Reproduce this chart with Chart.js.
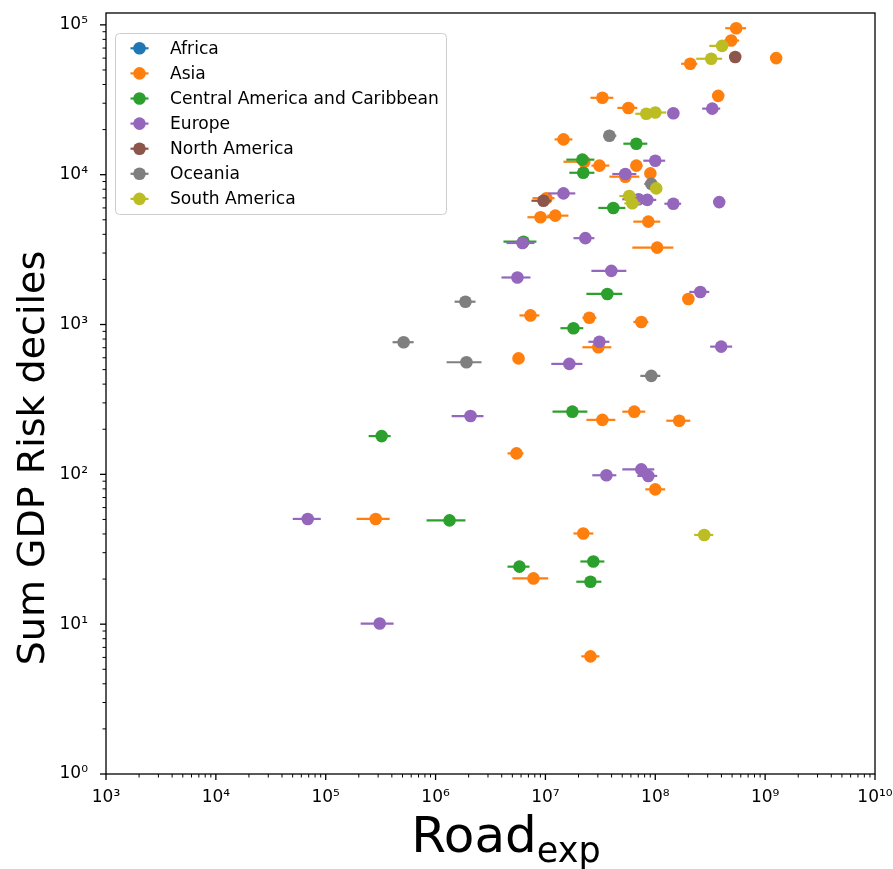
<!DOCTYPE html>
<html><head><meta charset="utf-8">
<script src="https://cdn.jsdelivr.net/npm/chart.js@4/dist/chart.umd.min.js"></script>
<style>html,body{margin:0;padding:0;background:#fff}#wrap{width:893px;height:869px}</style>
</head><body><div id="wrap"><canvas id="c" width="893" height="869"></canvas></div>
<script>
// ---------------- data ----------------
const regionNames = ["Africa","Asia","Central America and Caribbean","Europe","North America","Oceania","South America"];
const regionColors = ["#1f77b4","#ff7f0e","#2ca02c","#9467bd","#8c564b","#7f7f7f","#bcbd22"];

const africaX = [], africaY = [], africaLo = [], africaHi = [];

const asiaX  = [5.45e8,4.91e8,1.26e9,2.08e8,3.30e7,3.74e8,5.69e7,1.46e7,2.26e7,3.10e7,6.72e7,5.34e7,9.02e7,1.02e7,9.02e6,1.23e7,8.64e7,1.04e8,2.0e8,7.31e6,2.51e7,7.46e7,3.03e7,5.69e6,6.44e7,3.30e7,1.65e8,5.45e6,1.0e8,2.85e5,2.21e7,7.78e6,2.57e7];
const asiaY  = [9.5e4,7.86e4,6.0e4,5.5e4,3.26e4,3.36e4,2.79e4,1.72e4,1.22e4,1.15e4,1.15e4,9.7e3,1.02e4,6.97e3,5.2e3,5.33e3,4.86e3,3.26e3,1.48e3,1.15e3,1.11e3,1.04e3,705,594,262,231,228,138,79.4,50.4,40.3,20.2,6.1];
const asiaLo = [4.33e8,4.24e8,1.18e9,1.72e8,2.57e7,3.44e8,4.52e7,1.21e7,1.46e7,2.62e7,6.05e7,3.82e7,8.11e7,7.62e6,6.86e6,1.04e7,6.31e7,6.18e7,1.84e8,5.80e6,2.17e7,6.31e7,2.17e7,5.22e6,5.01e7,2.36e7,1.26e8,4.52e6,8.11e7,1.91e5,1.80e7,5.01e6,2.12e7];
const asiaHi = [6.71e8,5.80e8,1.34e9,2.41e8,4.15e7,4.06e8,6.86e7,1.76e7,2.51e7,3.82e7,7.62e7,7.16e7,1.0e8,1.21e7,1.16e7,1.62e7,1.11e8,1.46e8,2.17e8,8.81e6,2.91e7,8.64e7,3.98e7,6.18e6,8.11e7,4.33e7,2.08e8,6.31e6,1.23e8,3.82e5,2.73e7,1.06e7,3.10e7];

const camX  = [6.72e7,2.17e7,2.21e7,4.15e7,6.31e6,3.66e7,1.80e7,1.76e7,3.23e5,1.34e6,2.73e7,5.80e6,2.57e7];
const camY  = [1.61e4,1.26e4,1.03e4,6.0e3,3.57e3,1.6e3,945,262,180,49.3,26.2,24.2,19.2];
const camLo = [5.12e7,1.55e7,1.65e7,3.03e7,4.15e6,2.36e7,1.37e7,1.16e7,2.46e5,8.28e5,2.08e7,4.52e6,1.91e7];
const camHi = [8.46e7,2.79e7,2.79e7,5.34e7,8.28e6,5.01e7,2.21e7,2.41e7,3.90e5,1.87e6,3.44e7,7.16e6,3.23e7];

const europeX  = [3.30e8,1.46e8,1.0e8,5.34e7,1.46e7,8.46e7,7.05e7,1.46e8,3.82e8,2.31e7,6.18e6,3.98e7,5.56e6,2.57e8,3.98e8,3.10e7,1.65e7,2.08e6,3.59e7,7.46e7,8.64e7,6.86e4,3.10e5];
const europeY  = [2.76e4,2.57e4,1.24e4,1.01e4,7.5e3,6.79e3,6.86e3,6.4e3,6.56e3,3.77e3,3.5e3,2.28e3,2.06e3,1.65e3,712,767,546,245,98.6,108,97.6,50.4,10.1];
const europeLo = [2.67e8,1.34e8,7.78e7,4.06e7,1.06e7,6.86e7,5.01e7,1.21e8,3.44e8,1.80e7,4.42e6,2.62e7,3.98e6,2.04e8,3.16e8,2.46e7,1.13e7,1.40e6,2.67e7,5.01e7,6.86e7,5.01e4,2.08e5];
const europeHi = [3.90e8,1.60e8,1.23e8,6.72e7,1.87e7,1.02e8,8.64e7,1.72e8,4.24e8,2.79e7,7.94e6,5.45e7,7.31e6,3.10e8,5.01e8,3.82e7,2.17e7,2.73e6,4.42e7,9.79e7,1.04e8,9.02e4,4.15e5];

const northAmX  = [5.34e8,9.59e6];
const northAmY  = [6.1e4,6.7e3];
const northAmLo = [5.0e8,7.46e6];
const northAmHi = [5.7e8,1.13e7];

const oceaniaX  = [3.82e7,9.20e7,1.87e6,5.12e5,1.91e6,9.20e7];
const oceaniaY  = [1.82e4,8.68e3,1.42e3,762,560,454];
const oceaniaLo = [3.37e7,7.94e7,1.49e6,4.06e5,1.26e6,7.31e7];
const oceaniaHi = [4.42e7,1.04e8,2.31e6,6.31e5,2.62e6,1.11e8];

const southAmX  = [4.06e8,3.23e8,8.28e7,1.0e8,1.02e8,5.80e7,6.18e7,2.79e8];
const southAmY  = [7.24e4,5.94e4,2.55e4,2.6e4,8.1e3,7.2e3,6.44e3,39.4];
const southAmLo = [3.10e8,2.36e8,6.58e7,8.46e7,9.2e7,4.71e7,5.23e7,2.26e8];
const southAmHi = [4.42e8,4.06e8,1.02e8,1.26e8,1.13e8,6.72e7,7.31e7,3.37e8];

const xRange = [1e3, 1e10];
const yRange = [1, 1.2e5];
const xTitleMain = "Road", xTitleSub = "exp";
const yTitle = "Sum GDP Risk deciles";

// ---------------- build ----------------
const seriesX  = [africaX, asiaX, camX, europeX, northAmX, oceaniaX, southAmX];
const seriesY  = [africaY, asiaY, camY, europeY, northAmY, oceaniaY, southAmY];
const seriesLo = [africaLo, asiaLo, camLo, europeLo, northAmLo, oceaniaLo, southAmLo];
const seriesHi = [africaHi, asiaHi, camHi, europeHi, northAmHi, oceaniaHi, southAmHi];

const FONT = '"DejaVu Sans", sans-serif';
const SUP = {'0':'\u2070','1':'\u00b9','2':'\u00b2','3':'\u00b3','4':'\u2074','5':'\u2075','6':'\u2076','7':'\u2077','8':'\u2078','9':'\u2079','-':'\u207b'};
function powLabel(v){
  const l = Math.log10(v), e = Math.round(l);
  if (Math.abs(l - e) > 1e-6) return '';
  return '10' + String(e).split('').map(d => SUP[d]).join('');
}

const datasets = regionNames.map((name, i) => ({
  label: name,
  data: seriesX[i].map((x, j) => ({x: x, y: seriesY[i][j]})),
  errLo: seriesLo[i], errHi: seriesHi[i],
  backgroundColor: regionColors[i], borderColor: regionColors[i],
  pointRadius: 6.3, pointHoverRadius: 6.3, pointBorderWidth: 0, pointHoverBorderWidth: 0,
  showLine: false, order: 20 - i
}));

const PLOT = {left: 106, right: 875, top: 13, bottom: 774};

const deco = {
  id: 'deco',
  beforeDatasetDraw(chart, args) {
    const ds = chart.data.datasets[args.index];
    const xs = chart.scales.x, ys = chart.scales.y, ctx = chart.ctx, a = chart.chartArea;
    ctx.save();
    ctx.beginPath(); ctx.rect(a.left, a.top, a.right - a.left, a.bottom - a.top); ctx.clip();
    ctx.strokeStyle = ds.borderColor; ctx.lineWidth = 2.2; ctx.lineCap = 'butt';
    ds.data.forEach((p, k) => {
      const y = ys.getPixelForValue(p.y);
      ctx.beginPath();
      ctx.moveTo(xs.getPixelForValue(ds.errLo[k]), y);
      ctx.lineTo(xs.getPixelForValue(ds.errHi[k]), y);
      ctx.stroke();
    });
    ctx.restore();
  },
  afterDraw(chart) {
    const ctx = chart.ctx, a = chart.chartArea, xs = chart.scales.x, ys = chart.scales.y;
    ctx.save();
    // frame
    ctx.strokeStyle = '#000'; ctx.lineWidth = 1.3;
    ctx.strokeRect(a.left, a.top, a.right - a.left, a.bottom - a.top);
    // tick marks
    for (let e = 3; e <= 10; e++) for (let m = 1; m <= 9; m++) {
      const v = m * Math.pow(10, e); if (v > xRange[1] * 1.0001) break;
      const px = xs.getPixelForValue(v), major = m === 1;
      ctx.lineWidth = major ? 1.3 : 1; ctx.beginPath();
      ctx.moveTo(px, a.bottom); ctx.lineTo(px, a.bottom + (major ? 6 : 3.5)); ctx.stroke();
    }
    for (let e = 0; e <= 5; e++) for (let m = 1; m <= 9; m++) {
      const v = m * Math.pow(10, e); if (v > yRange[1]) break;
      const py = ys.getPixelForValue(v), major = m === 1;
      ctx.lineWidth = major ? 1.3 : 1; ctx.beginPath();
      ctx.moveTo(a.left, py); ctx.lineTo(a.left - (major ? 6 : 3.5), py); ctx.stroke();
    }
    // axis titles
    ctx.fillStyle = '#000';
    ctx.font = '50px ' + FONT; ctx.textBaseline = 'alphabetic'; ctx.textAlign = 'left';
    const wMain = ctx.measureText(xTitleMain).width;
    ctx.font = '35px ' + FONT;
    const wSub = ctx.measureText(xTitleSub).width;
    const x0 = 506 - (wMain + wSub) / 2;
    ctx.font = '50px ' + FONT; ctx.fillText(xTitleMain, x0, 852);
    ctx.font = '35px ' + FONT; ctx.fillText(xTitleSub, x0 + wMain, 862);
    ctx.save();
    ctx.translate(44, 458); ctx.rotate(-Math.PI / 2);
    ctx.font = '38px ' + FONT; ctx.textAlign = 'center';
    ctx.fillText(yTitle, 0, 0);
    ctx.restore();
    // legend
    const bx = 115.5, by = 33.5, bw = 331, bh = 181;
    ctx.beginPath(); ctx.roundRect(bx, by, bw, bh, 4);
    ctx.fillStyle = 'rgba(255,255,255,0.8)'; ctx.fill();
    ctx.strokeStyle = '#cccccc'; ctx.lineWidth = 1; ctx.stroke();
    chart.data.datasets.forEach((ds, i) => {
      const y = 48.3 + i * 25.1;
      ctx.strokeStyle = ds.borderColor; ctx.lineWidth = 2.2;
      ctx.beginPath(); ctx.moveTo(130.5, y); ctx.lineTo(148.5, y); ctx.stroke();
      ctx.fillStyle = ds.backgroundColor;
      ctx.beginPath(); ctx.arc(139.5, y, 6.3, 0, Math.PI * 2); ctx.fill();
      ctx.fillStyle = '#000'; ctx.font = '17.1px ' + FONT; ctx.textAlign = 'left'; ctx.textBaseline = 'middle';
      ctx.fillText(ds.label, 170, y + 1);
    });
    ctx.restore();
  }
};

new Chart(document.getElementById('c'), {
  type: 'scatter',
  data: {datasets},
  plugins: [deco],
  options: {
    responsive: false, animation: false, events: [],
    layout: {padding: {left: 0, right: 893 - PLOT.right, top: PLOT.top, bottom: 0}},
    plugins: {legend: {display: false}, tooltip: {enabled: false}},
    scales: {
      x: {
        type: 'logarithmic', position: 'bottom', min: xRange[0], max: xRange[1],
        grid: {display: false}, border: {display: false},
        ticks: {autoSkip: false, maxRotation: 0, color: '#000', padding: 5,
                font: {family: FONT, size: 17}, callback: v => powLabel(v)},
        afterFit: s => { s.height = 869 - PLOT.bottom; s.paddingLeft = 0; s.paddingRight = 0; }
      },
      y: {
        type: 'logarithmic', position: 'left', min: yRange[0], max: yRange[1],
        grid: {display: false}, border: {display: false},
        ticks: {autoSkip: false, color: '#000', padding: 10,
                font: {family: FONT, size: 17}, callback: v => powLabel(v)},
        afterFit: s => { s.width = PLOT.left; s.paddingTop = 0; s.paddingBottom = 0; }
      }
    }
  }
});
</script></body></html>
